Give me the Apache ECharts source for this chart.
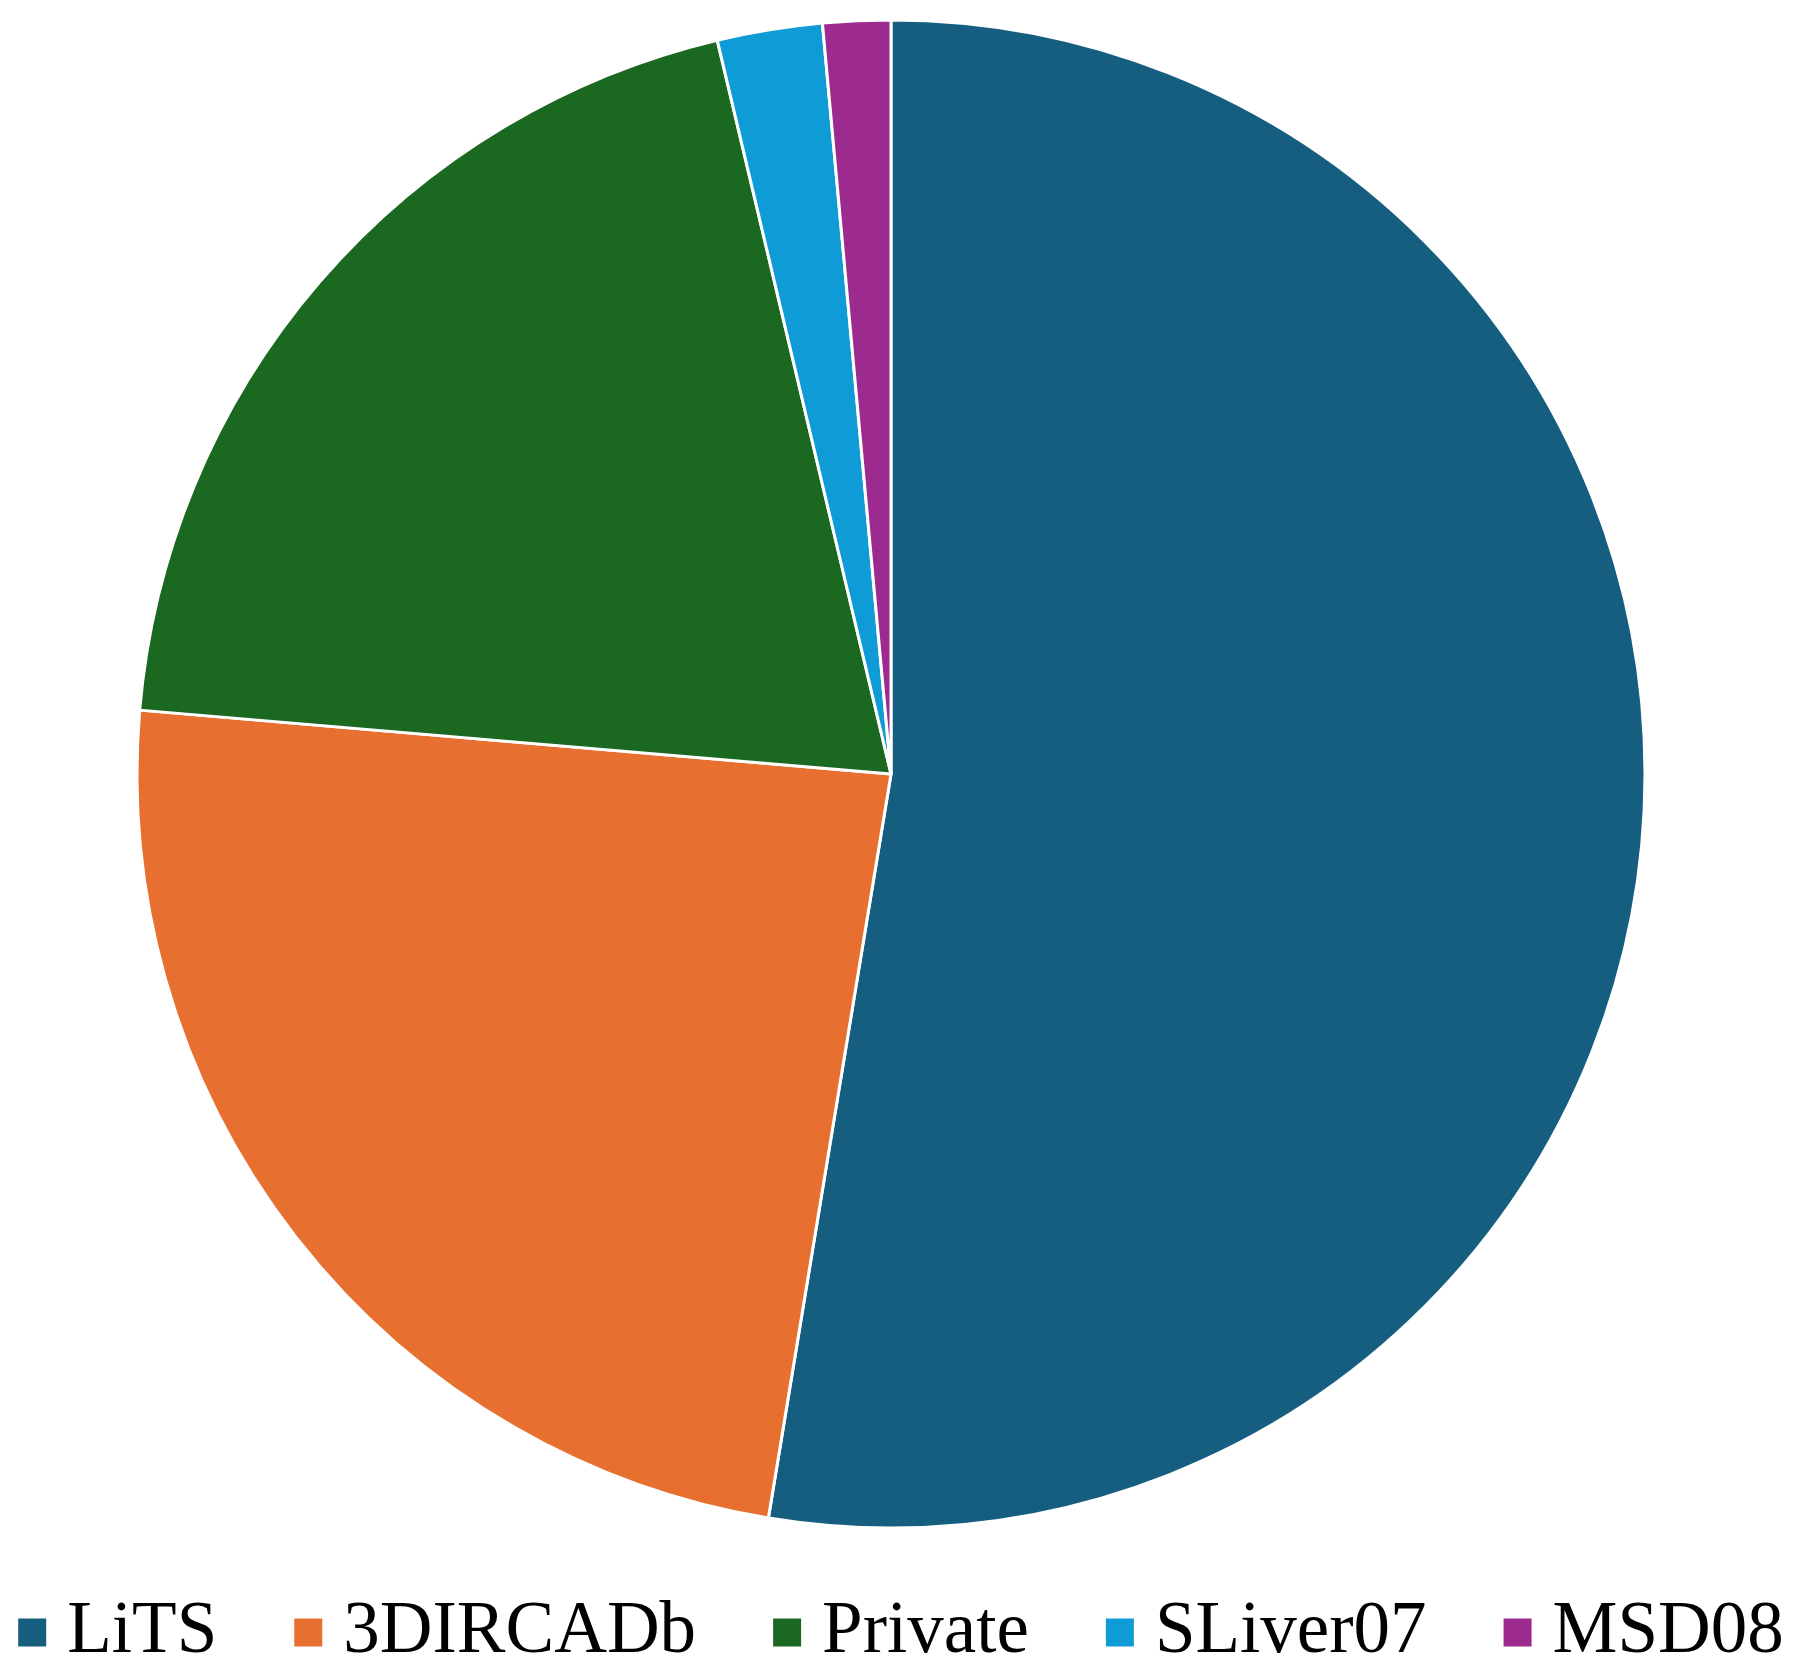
<!DOCTYPE html>
<html>
<head>
<meta charset="utf-8">
<script src="https://cdn.jsdelivr.net/npm/echarts@6/dist/echarts.min.js"></script>
<style>
  html, body { margin: 0; padding: 0; background: #fff; }
  #chart { width: 1800px; height: 1669px; }
</style>
</head>
<body>
<div id="chart"></div>
<script>
const datasets = ['LiTS', '3DIRCADb', 'Private', 'SLiver07', 'MSD08'];
const shares = [52.6, 23.75, 19.95, 2.25, 1.45];
const colors = ['#165E80', '#E77031', '#1B6821', '#0F9BD5', '#9D2A8F'];

const myChart = echarts.init(document.getElementById('chart'));
myChart.setOption({
    animation: false,
    color: colors,
    legend: {
        top: 1591,
        left: 'center',
        icon: 'rect',
        itemWidth: 30,
        itemHeight: 30,
        itemGap: 75,
        textStyle: {
            fontFamily: 'Liberation Serif',
            fontSize: 73,
            color: '#000',
            padding: [0, 0, 0, 15]
        },
        data: datasets
    },
    series: [
        {
            type: 'pie',
            center: [891, 774],
            radius: 754,
            startAngle: 90,
            clockwise: true,
            label: {show: false},
            labelLine: {show: false},
            itemStyle: {
                borderColor: '#fff',
                borderWidth: 3
            },
            data: datasets.map((name, i) => ({name: name, value: shares[i]}))
        }
    ]
});
</script>
</body>
</html>
